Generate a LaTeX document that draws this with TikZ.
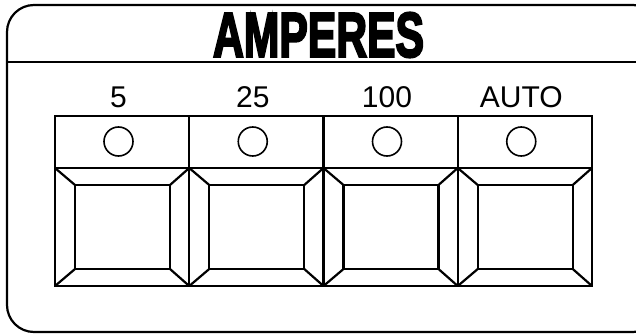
\documentclass[tikz,border=0pt]{standalone}
\usepackage{fontspec}
\usepackage{graphicx}
\setmainfont{Liberation Sans}
\newfontfamily\titlefont[FakeBold=4]{Liberation Sans}

\begin{document}
\begin{tikzpicture}[x=1pt,y=-1pt,
  panel/.style={line width=2.2pt},
  lamp/.style={circle,draw,line width=1.6pt,minimum size=29pt,inner sep=0pt},
  rangetext/.style={font=\fontsize{30}{36}\selectfont,inner sep=0pt,anchor=base}]

\useasboundingbox (0,0) rectangle (636,334);
\clip (0,0) rectangle (636,334);

% Outer panel
\draw[panel,rounded corners=27pt] (7,5) rectangle (660,332);
\draw[panel] (7,62) -- (636,62);

% Title
\node[inner sep=0pt] (title) at (318.5,35) {\resizebox{211pt}{44pt}{\titlefont\bfseries AMPERES}};

% Range buttons
\foreach \lbl [count=\i from 0] in {5,25,100,AUTO} {
  \pgfmathsetmacro\xl{55+134.25*\i}
  % lamp row
  \draw[panel] (\xl,116) rectangle ++(134.25,52);
  \node[lamp] (lamp\i) at (\xl+63.5,141.5) {};
  \node[rangetext] (label\i) at (\xl+63.5,107) {\lbl};
  % push button
  \draw[panel] (\xl,168) rectangle ++(134.25,118);
  \draw[panel] (\xl+20,185) rectangle (\xl+115,269);
  \draw[panel] (\xl,168) -- (\xl+20,185);
  \draw[panel] (\xl+134.25,168) -- (\xl+115,185);
  \draw[panel] (\xl,286) -- (\xl+20,269);
  \draw[panel] (\xl+134.25,286) -- (\xl+115,269);
}

\end{tikzpicture}
\end{document}
